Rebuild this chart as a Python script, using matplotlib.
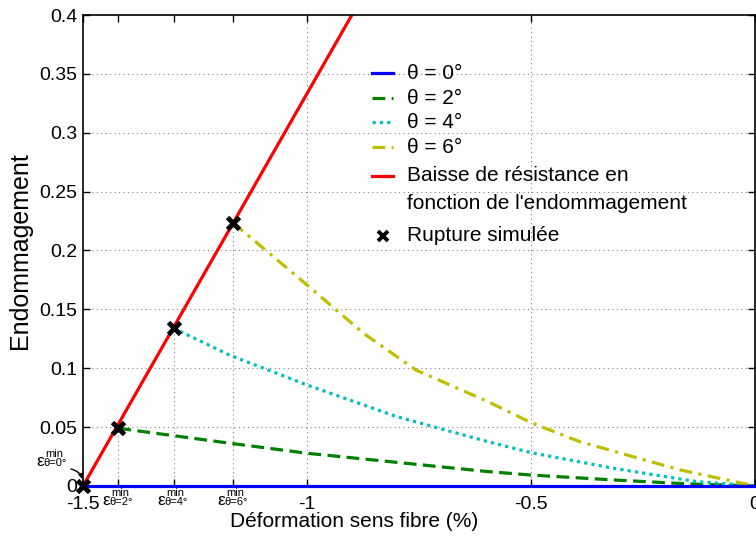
import matplotlib
matplotlib.use("Agg")
import matplotlib.pyplot as plt

plt.rcParams['font.family'] = ['Liberation Sans', 'DejaVu Sans']

# points de rupture simulée
eps_rupt = [-1.5, -1.421, -1.298, -1.165]
D_rupt = [0.0, 0.049, 0.134, 0.2235]
eps_subs = ['θ=0°', 'θ=2°', 'θ=4°', 'θ=6°']

# baisse de résistance en fonction de l'endommagement
x_red = [-1.5, -0.9]
y_red = [0.0, 0.4]

# courbes pour chaque angle
x_t0 = [-1.5, 0.0]
y_t0 = [0.0, 0.0]
x_t2 = [-1.421, -1.172, -1.0, -0.596, -0.5, -0.316, -0.15, 0.0]
y_t2 = [0.049, 0.0363, 0.0278, 0.0122, 0.0093, 0.0051, 0.0018, 0.0]
x_t4 = [-1.298, -1.172, -1.0, -0.800, -0.596, -0.5, -0.316, -0.13, 0.0]
y_t4 = [0.134, 0.111, 0.0858, 0.0589, 0.0376, 0.0283, 0.015, 0.0037, 0.0]
x_t6 = [-1.165, -1.0, -0.874, -0.757, -0.596, -0.5, -0.391, -0.167, 0.0]
y_t6 = [0.2235, 0.1707, 0.1297, 0.0985, 0.0716, 0.0538, 0.0376, 0.0136, 0.0]

yticks = [0, 0.05, 0.1, 0.15, 0.2, 0.25, 0.3, 0.35, 0.4]
ytick_labels = ['0', '0.05', '0.1', '0.15', '0.2', '0.25', '0.3', '0.35', '0.4']
xticks = [-1.5, eps_rupt[1], eps_rupt[2], eps_rupt[3], -1.0, -0.5, 0.0]
xtick_labels = ['-1.5', '', '', '', '-1', '-0.5', '0']

legend_labels = ['θ = 0°', 'θ = 2°', 'θ = 4°', 'θ = 6°',
                 'Baisse de résistance en', 'fonction de l\'endommagement',
                 'Rupture simulée']

fig = plt.figure(figsize=(7.56, 5.38), dpi=100)
ax = fig.add_axes([0.1098, 0.0967, 0.889, 0.8754])

grid_kw = dict(color='0.5', linestyle=(0, (1, 3)), linewidth=0.8, zorder=0)
for yv in yticks[1:-1]:
    ax.axhline(yv, **grid_kw)
for xv in [-1.0, -0.5]:
    ax.axvline(xv, **grid_kw)
ax.vlines(eps_rupt[1:], 0, D_rupt[1:], **grid_kw)

lw = 2.3
styles = [dict(color=(0, 0, 1), lw=lw),
          dict(color=(0, 0.5, 0), lw=lw, linestyle=(0, (4, 2))),
          dict(color=(0, 0.75, 0.75), lw=lw, linestyle=(0, (1, 1.3))),
          dict(color=(0.75, 0.75, 0), lw=lw, linestyle=(0, (4, 2, 1, 2))),
          dict(color=(1, 0, 0), lw=lw)]
mk_style = dict(linestyle='none', marker='x', color='black', markeredgewidth=3.5)

ax.plot(x_t0, y_t0, clip_on=False, zorder=3, **styles[0])
ax.plot(x_t2, y_t2, **styles[1])
ax.plot(x_t4, y_t4, **styles[2])
ax.plot(x_t6, y_t6, **styles[3])
ax.plot(x_red, y_red, **styles[4])
ax.plot(eps_rupt, D_rupt, markersize=9, clip_on=False, zorder=5, **mk_style)

ax.set_xlim(-1.5, 0)
ax.set_ylim(0, 0.4)
ax.set_yticks(yticks)
ax.set_yticklabels(ytick_labels)
ax.set_xticks(xticks)
ax.set_xticklabels(xtick_labels)
ax.tick_params(direction='in', top=True, right=True, length=5, width=1,
               labelsize=14, pad=4)
ax.tick_params(axis='x', pad=7.5)
for s in ax.spines.values():
    s.set_linewidth(1.2)


def eps_label(x, y, sub, dx, dy):
    """ε avec 'min' en exposant et l'angle en indice, placé en (dx, dy) pixels"""
    kw = dict(xy=(x, y), xycoords='data', textcoords='offset pixels',
              va='baseline', annotation_clip=False)
    ax.annotate('ε', xytext=(dx - 8, dy), ha='right', fontsize=12.5, **kw)
    ax.annotate(sub, xytext=(dx - 9, dy), ha='left', fontsize=8, **kw)
    ax.annotate('min', xytext=(dx - 7, dy + 9), ha='left', fontsize=8, **kw)


for xe, sub in zip(eps_rupt[1:], eps_subs[1:]):
    eps_label(xe, 0.0, sub, 0, -19.5)
eps_label(eps_rupt[0], D_rupt[0], eps_subs[0], -31, 20)
ax.annotate('', xy=(eps_rupt[0], D_rupt[0]), xycoords='data',
            xytext=(-12, 17), textcoords='offset pixels', annotation_clip=False,
            arrowprops=dict(arrowstyle='-|>', color='black', lw=1, mutation_scale=7,
                            connectionstyle='arc3,rad=-0.4', shrinkA=0, shrinkB=5))

ax.set_xlabel('Déformation sens fibre (%)', fontsize=15)
ax.xaxis.set_label_coords(0.403, -0.056)
ax.set_ylabel('Endommagement', fontsize=18)
ax.yaxis.set_label_coords(-0.076, 0.5)

# légende dessinée à la main (lignes en pixels de la figure d'origine)
row_px = [73, 98, 122, 147, 176, 204, 236]
handle_of_row = [0, 1, 2, 3, 4, None, 'x']
hx0, hx1, tx = (372 - 83) / 672, (393 - 83) / 672, (407 - 83) / 672
for ry, h, lab in zip(row_px, handle_of_row, legend_labels):
    yy = (486 - ry) / 471
    if h == 'x':
        ax.plot([(hx0 + hx1) / 2], [yy], transform=ax.transAxes, markersize=7,
                **dict(mk_style, markeredgewidth=2.8))
    elif h is not None:
        ax.plot([hx0, hx1], [yy, yy], transform=ax.transAxes, **styles[h])
    ax.text(tx, yy, lab, transform=ax.transAxes, fontsize=15, va='center', ha='left')

fig.savefig('out.png', dpi=100)
